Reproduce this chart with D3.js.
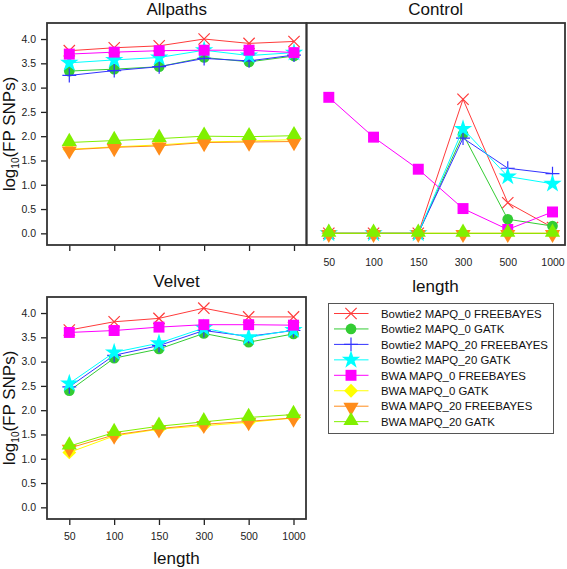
<!DOCTYPE html>
<html><head><meta charset="utf-8">
<script src="https://cdn.jsdelivr.net/npm/d3@7"></script>
<style>
html,body{margin:0;padding:0;background:#fff;}
svg{display:block;font-family:"Liberation Sans",Arial,sans-serif;}
</style></head>
<body><svg id="c" width="567" height="569"></svg>
<script>
const lengths = ["50","100","150","300","500","1000"];
const seriesNames = ["Bowtie2 MAPQ_0 FREEBAYES","Bowtie2 MAPQ_0 GATK","Bowtie2 MAPQ_20 FREEBAYES","Bowtie2 MAPQ_20 GATK","BWA MAPQ_0 FREEBAYES","BWA MAPQ_0 GATK","BWA MAPQ_20 FREEBAYES","BWA MAPQ_20 GATK"];
const seriesColors = ["#FF3B3B","#33CC33","#3333FF","#00FFFF","#FF00FF","#FFFF00","#FF8C1A","#80F000"];
const seriesShapes = ["times","circle","plus","star","square","diamond","down","up"];
const yTicks = [0,0.5,1,1.5,2,2.5,3,3.5,4];

// log10(FP SNPs), rows follow seriesNames, columns follow lengths
const allpaths = [
  [3.76,3.82,3.86,4.00,3.91,3.95],
  [3.34,3.38,3.43,3.62,3.53,3.65],
  [3.25,3.35,3.43,3.60,3.55,3.67],
  [3.51,3.57,3.62,3.77,3.66,3.72],
  [3.69,3.73,3.76,3.77,3.77,3.72],
  [1.73,1.78,1.82,1.88,1.90,1.93],
  [1.72,1.77,1.80,1.87,1.88,1.89],
  [1.87,1.91,1.95,2.00,1.99,2.01]
];
const control = [
  [0,0,0,2.76,0.63,0.12],
  [0,0,0,2.04,0.29,0.15],
  [0,0,0,1.96,1.34,1.23],
  [0,0,0,2.15,1.17,1.02],
  [2.80,1.98,1.32,0.51,0.08,0.44],
  [0,0,0,0,0,0],
  [0,0,0,0,0,0],
  [0,0,0,0,0,0]
];
const velvet = [
  [3.65,3.82,3.89,4.10,3.92,3.92],
  [2.40,3.07,3.26,3.58,3.40,3.57],
  [2.48,3.13,3.33,3.64,3.52,3.64],
  [2.55,3.19,3.38,3.69,3.50,3.65],
  [3.60,3.64,3.71,3.76,3.76,3.75],
  [1.13,1.47,1.61,1.68,1.75,1.84],
  [1.22,1.49,1.62,1.71,1.77,1.84],
  [1.26,1.54,1.67,1.76,1.85,1.91]
];

const svg = d3.select("#c");

function markerPath(shape){
  switch(shape){
    case "times": return d3.symbol(d3.symbolTimes, 85)();
    case "plus": return d3.symbol(d3.symbolPlus, 65)();
    case "circle": return d3.symbol(d3.symbolCircle, 90)();
    case "star": return d3.symbol(d3.symbolStar, 105)();
    case "square": return d3.symbol(d3.symbolSquare, 120)();
    case "diamond": return d3.symbol(d3.symbolSquare, 95)();
    case "down": return d3.symbol(d3.symbolTriangle, 100)();
    case "up": return d3.symbol(d3.symbolTriangle, 100)();
  }
}
function markerTransform(shape, x, y){
  if(shape==="diamond") return `translate(${x},${y}) rotate(45)`;
  if(shape==="down") return `translate(${x},${y+1}) rotate(180)`;
  if(shape==="up") return `translate(${x},${y-1})`;
  return `translate(${x},${y})`;
}
function drawMarker(g, shape, color, x, y){
  const stroked = shape==="times" || shape==="plus";
  g.append("path").attr("d", markerPath(shape))
    .attr("transform", markerTransform(shape,x,y))
    .attr("fill", stroked ? "none" : color)
    .attr("stroke", stroked ? color : "none")
    .attr("stroke-width", stroked ? 1.2 : 0);
}

function panel(opts){
  const {x0,x1,y0,y1,data,title,titleY,yAxis,xTicks,xLabels} = opts;
  const x = d3.scalePoint().domain(lengths).range([x0+22.3, x1-12.5]);
  const y = d3.scaleLinear().domain([-0.24,4.33]).range([y1,y0]);
  const g = svg.append("g");
  if(yAxis){
    const ax = g.append("g").attr("transform",`translate(${x0},0)`)
      .call(d3.axisLeft(y).tickValues(yTicks).tickFormat(d3.format(".1f")).tickSize(6).tickPadding(5));
    ax.select(".domain").remove();
    ax.selectAll("line").attr("stroke","#222").attr("stroke-width",1.3);
    ax.selectAll("text").attr("font-size","10.5px").attr("fill","#222").attr("font-family","Liberation Sans, Arial, sans-serif");
  }
  if(xTicks || xLabels){
    const ax = g.append("g").attr("transform",`translate(0,${y1})`)
      .call(d3.axisBottom(x).tickSize(xTicks?6:0).tickPadding(xTicks?8:14).tickFormat(xLabels? (d=>d) : (()=> "")));
    ax.select(".domain").remove();
    ax.selectAll("line").attr("stroke","#222").attr("stroke-width",1.3);
    ax.selectAll("text").attr("font-size","10.5px").attr("fill","#222").attr("font-family","Liberation Sans, Arial, sans-serif");
  }
  const line = d3.line().x((d,i)=>x(lengths[i])).y(d=>y(d));
  data.forEach((vals,s)=>{
    g.append("path").attr("d", line(vals)).attr("fill","none")
      .attr("stroke", seriesColors[s]).attr("stroke-width",1);
    vals.forEach((v,i)=> drawMarker(g, seriesShapes[s], seriesColors[s], x(lengths[i]), y(v)));
  });
  g.append("rect").attr("x",x0).attr("y",y0).attr("width",x1-x0).attr("height",y1-y0)
    .attr("fill","none").attr("stroke","#333").attr("stroke-width",1.8);
  svg.append("text").attr("x",(x0+x1)/2).attr("y",titleY).attr("text-anchor","middle")
    .attr("font-size","17px").attr("fill","#111").text(title);
}

panel({x0:47,x1:306.5,y0:23,y1:245,data:allpaths,title:"Allpaths",titleY:14.5,yAxis:true,xTicks:true,xLabels:false});
panel({x0:306.5,x1:565,y0:23,y1:245,data:control,title:"Control",titleY:14.5,yAxis:false,xTicks:false,xLabels:true});
panel({x0:47,x1:306,y0:297,y1:519,data:velvet,title:"Velvet",titleY:287,yAxis:true,xTicks:true,xLabels:true});

// axis titles
svg.append("text").attr("x",435.5).attr("y",292).attr("text-anchor","middle").attr("font-size","17px").attr("fill","#111").text("length");
svg.append("text").attr("x",176.5).attr("y",564).attr("text-anchor","middle").attr("font-size","17px").attr("fill","#111").text("length");
[134,408].forEach(cy=>{
  const t = svg.append("text").attr("transform",`translate(15,${cy}) rotate(-90)`).attr("text-anchor","middle").attr("font-size","17px").attr("fill","#111");
  t.append("tspan").text("log");
  t.append("tspan").attr("font-size","10px").attr("dy","4").text("10");
  t.append("tspan").attr("dy","-4").text("(FP SNPs)");
});

// legend
const lg = svg.append("g");
lg.append("rect").attr("x",328.5).attr("y",303.5).attr("width",225).attr("height",130)
  .attr("fill","#fff").attr("stroke","#555").attr("stroke-width",1);
seriesNames.forEach((name,s)=>{
  const cy = 313.5 + s*15.45;
  lg.append("line").attr("x1",334).attr("x2",368.5).attr("y1",cy).attr("y2",cy)
    .attr("stroke",seriesColors[s]).attr("stroke-width",1);
  drawMarker(lg, seriesShapes[s], seriesColors[s], 351, cy);
  lg.append("text").attr("x",381).attr("y",cy+4.2).attr("font-size","11.4px").attr("fill","#111").text(name);
});
</script></body></html>
